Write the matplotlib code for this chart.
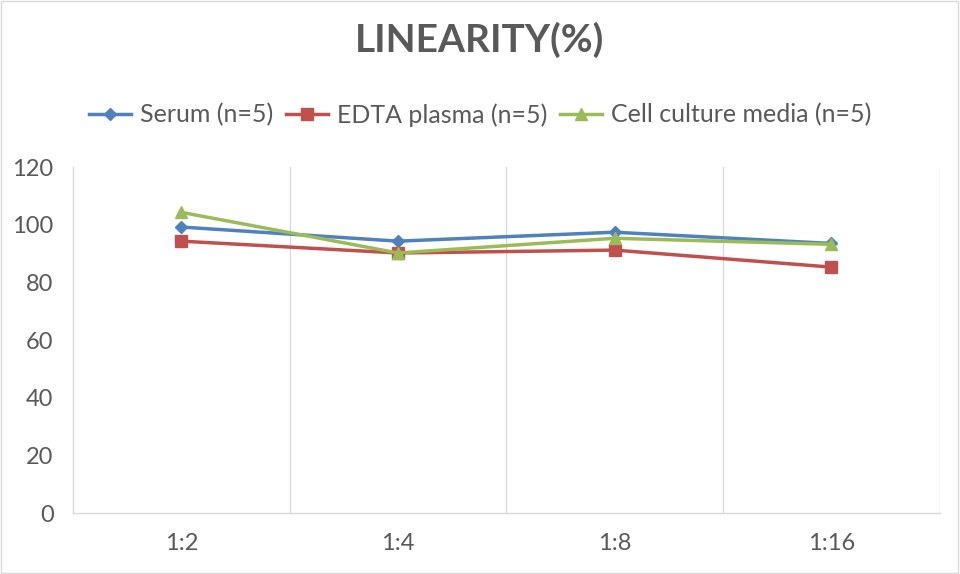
import matplotlib
matplotlib.use("Agg")
import matplotlib.pyplot as plt
from matplotlib.ticker import FixedLocator

# ---------- data ----------
categories = ["1:2", "1:4", "1:8", "1:16"]
serum = [99.2, 94.3, 97.4, 93.5]
edta_plasma = [94.3, 90.2, 91.2, 85.3]
cell_culture = [104.3, 90.2, 95.3, 93.2]

series_names = ["Serum (n=5)", "EDTA plasma (n=5)", "Cell culture media (n=5)"]
series_values = [serum, edta_plasma, cell_culture]
series_colors = ["#4F81BD", "#C0504D", "#9BBB59"]
series_markers = ["D", "s", "^"]
marker_sizes = [6, 8, 8]

yticks = [0, 20, 40, 60, 80, 100, 120]

plt.rcParams["font.family"] = ["Lato", "DejaVu Sans"]

fig = plt.figure(figsize=(9.6, 5.74), dpi=100)
ax = fig.add_axes([0.076, 0.106, 0.903, 0.603])

x = list(range(len(categories)))
for name, vals, c, m, ms in zip(series_names, series_values, series_colors,
                                series_markers, marker_sizes):
    ax.plot(x, vals, color=c, marker=m, markersize=ms, linewidth=2.5,
            label=name, markeredgecolor=c)

ax.set_xlim(-0.5, len(categories) - 0.5)
ax.set_ylim(0, 120)
ax.set_xticks(x)
ax.set_xticklabels(categories)
ax.set_yticks(yticks)
ax.xaxis.set_minor_locator(FixedLocator([i + 0.5 for i in range(len(categories))]))
ax.grid(which="minor", axis="x", color="#D9D9D9", linewidth=1)
ax.tick_params(axis="both", which="both", length=0, labelsize=17,
               labelcolor="#595959")
ax.tick_params(axis="x", pad=14)
ax.tick_params(axis="y", pad=14)

for side in ["top", "right"]:
    ax.spines[side].set_visible(False)
for side in ["left", "bottom"]:
    ax.spines[side].set_color("#D9D9D9")
    ax.spines[side].set_linewidth(1)

fig.text(0.5, 0.93, "LINEARITY(%)", ha="center", va="center",
         fontsize=28, fontweight="bold", color="#595959")

leg = fig.legend(loc="center", bbox_to_anchor=(0.5, 0.80), ncol=3,
                 frameon=False, fontsize=18, handlelength=1.7,
                 handletextpad=0.35, columnspacing=0.5, labelcolor="#595959")

# outer border like the original chart area
fig.patches.append(plt.Rectangle((0.001, 0.002), 0.997, 0.996,
                                 transform=fig.transFigure, fill=False,
                                 edgecolor="#D9D9D9", linewidth=1))

fig.savefig("out.png", dpi=100)
